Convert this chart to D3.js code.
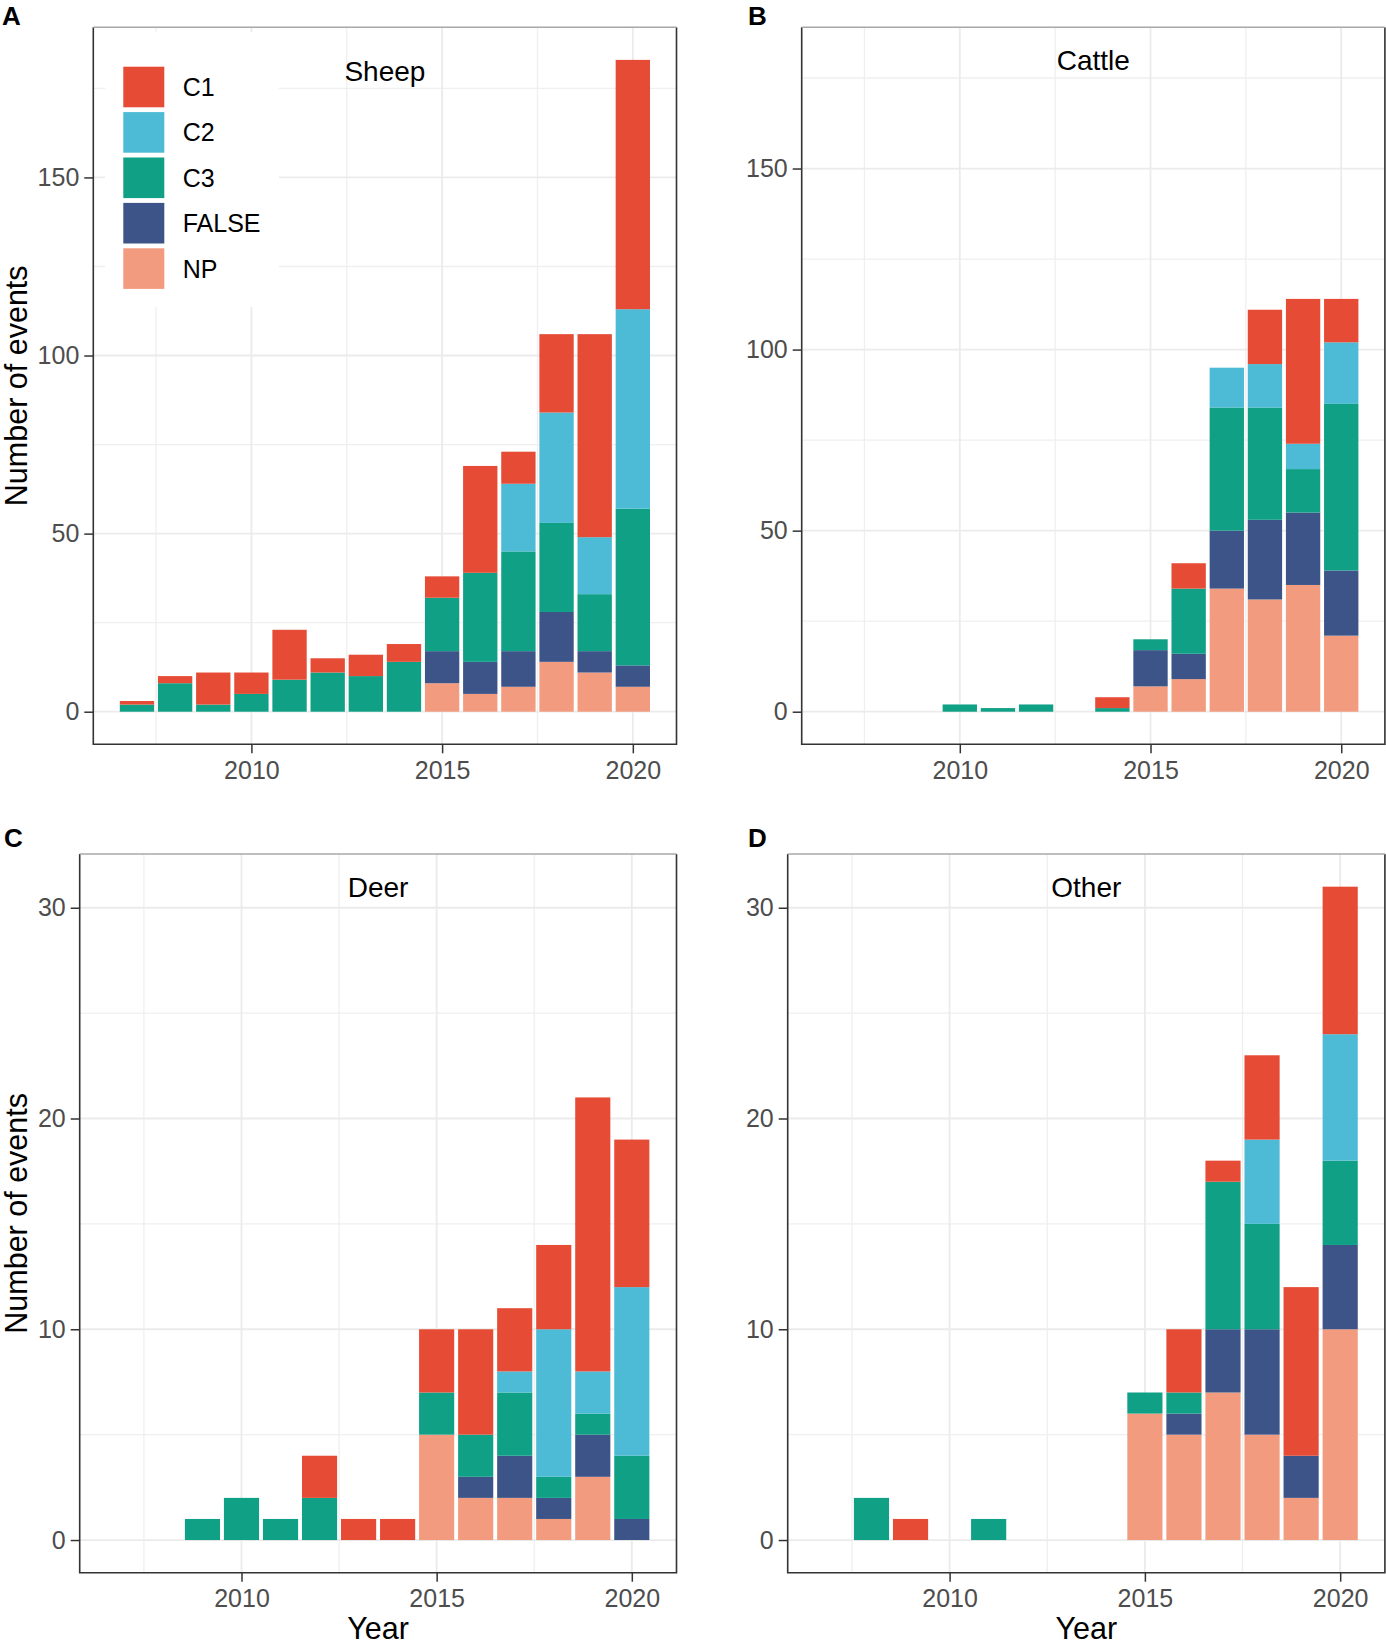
<!DOCTYPE html>
<html>
<head>
<meta charset="utf-8">
<script src="https://cdn.jsdelivr.net/npm/d3@7"></script>
<style>
body { margin: 0; background: #fff; }
text { font-family: "Liberation Sans", Arial, sans-serif; }
</style>
</head>
<body>
<div id="chart"></div>
<script>
const years = [2007, 2008, 2009, 2010, 2011, 2012, 2013, 2014, 2015, 2016, 2017, 2018, 2019, 2020];
const categories = ['C1', 'C2', 'C3', 'FALSE', 'NP'];
const stackOrder = ['NP', 'FALSE', 'C3', 'C2', 'C1'];
const colors = { C1: '#E64B35', C2: '#4DBBD5', C3: '#0FA085', FALSE: '#3C5488', NP: '#F39B7F' };

// Sheep
const sheepC1 = [1, 2, 9, 6, 14, 4, 6, 5, 6, 30, 9, 22, 57, 70];
const sheepC2 = [0, 0, 0, 0, 0, 0, 0, 0, 0, 0, 19, 31, 16, 56];
const sheepC3 = [2, 8, 2, 5, 9, 11, 10, 14, 15, 25, 28, 25, 16, 44];
const sheepFALSE = [0, 0, 0, 0, 0, 0, 0, 0, 9, 9, 10, 14, 6, 6];
const sheepNP = [0, 0, 0, 0, 0, 0, 0, 0, 8, 5, 7, 14, 11, 7];

// Cattle
const cattleC1 = [0, 0, 0, 0, 0, 0, 0, 3, 0, 7, 0, 15, 40, 12];
const cattleC2 = [0, 0, 0, 0, 0, 0, 0, 0, 0, 0, 11, 12, 7, 17];
const cattleC3 = [0, 0, 0, 2, 1, 2, 0, 1, 3, 18, 34, 31, 12, 46];
const cattleFALSE = [0, 0, 0, 0, 0, 0, 0, 0, 10, 7, 16, 22, 20, 18];
const cattleNP = [0, 0, 0, 0, 0, 0, 0, 0, 7, 9, 34, 31, 35, 21];

// Deer
const deerC1 = [0, 0, 0, 0, 0, 2, 1, 1, 3, 5, 3, 4, 13, 7];
const deerC2 = [0, 0, 0, 0, 0, 0, 0, 0, 0, 0, 1, 7, 2, 8];
const deerC3 = [0, 0, 1, 2, 1, 2, 0, 0, 2, 2, 3, 1, 1, 3];
const deerFALSE = [0, 0, 0, 0, 0, 0, 0, 0, 0, 1, 2, 1, 2, 1];
const deerNP = [0, 0, 0, 0, 0, 0, 0, 0, 5, 2, 2, 1, 3, 0];

// Other
const otherC1 = [0, 0, 1, 0, 0, 0, 0, 0, 0, 3, 1, 4, 8, 7];
const otherC2 = [0, 0, 0, 0, 0, 0, 0, 0, 0, 0, 0, 4, 0, 6];
const otherC3 = [0, 2, 0, 0, 1, 0, 0, 0, 1, 1, 7, 5, 0, 4];
const otherFALSE = [0, 0, 0, 0, 0, 0, 0, 0, 0, 1, 3, 5, 2, 4];
const otherNP = [0, 0, 0, 0, 0, 0, 0, 0, 6, 5, 7, 5, 2, 10];

const xTicks = [2010, 2015, 2020];
const bigTicks = [0, 50, 100, 150];
const smallTicks = [0, 10, 20, 30];

const width = 1386;
const height = 1645;

const buildTable = (c1, c2, c3, f, np) => years.map((year, i) => ({
    year: year, C1: c1[i], C2: c2[i], C3: c3[i], FALSE: f[i], NP: np[i]
}));

const panels = [
    { tag: 'A', title: 'Sheep', titleY: 180, yMax: 183, yTicks: bigTicks,
      data: buildTable(sheepC1, sheepC2, sheepC3, sheepFALSE, sheepNP),
      box: { left: 93.3, right: 676.5, top: 27.3, bottom: 744.3 }, tagPos: [2, 25],
      yTitle: true, xTitle: false, legend: true },
    { tag: 'B', title: 'Cattle', titleY: 180, yMax: 180, yTicks: bigTicks,
      data: buildTable(cattleC1, cattleC2, cattleC3, cattleFALSE, cattleNP),
      box: { left: 801.7, right: 1384.9, top: 27.3, bottom: 744.3 }, tagPos: [748, 25],
      yTitle: false, xTitle: false, legend: false },
    { tag: 'C', title: 'Deer', titleY: 31, yMax: 31, yTicks: smallTicks,
      data: buildTable(deerC1, deerC2, deerC3, deerFALSE, deerNP),
      box: { left: 79.7, right: 676.5, top: 854, bottom: 1572.7 }, tagPos: [4, 847],
      yTitle: true, xTitle: true, legend: false },
    { tag: 'D', title: 'Other', titleY: 31, yMax: 31, yTicks: smallTicks,
      data: buildTable(otherC1, otherC2, otherC3, otherFALSE, otherNP),
      box: { left: 787.7, right: 1384.9, top: 854, bottom: 1572.7 }, tagPos: [748, 847],
      yTitle: false, xTitle: true, legend: false }
];

const svg = d3.select('#chart')
    .append('svg')
    .attr('width', width)
    .attr('height', height);

// minor grid positions: halfway between majors, kept inside the domain
const minorOf = (ticks, domain) => {
    const step = ticks[1] - ticks[0];
    const out = [];
    ticks.forEach(t => {
        [t - step / 2, t + step / 2].forEach(m => {
            if (m > domain[0] && m < domain[1] && !out.includes(m)) out.push(m);
        });
    });
    return out;
};

const drawPanel = (p) => {
    const b = p.box;
    const xLo = d3.min(years) - 0.45;
    const xHi = d3.max(years) + 0.45;
    const xPad = (xHi - xLo) * 0.05;
    const x = d3.scaleLinear()
        .domain([xLo - xPad, xHi + xPad])
        .range([b.left, b.right]);
    const y = d3.scaleLinear()
        .domain([-0.05 * p.yMax, 1.05 * p.yMax])
        .range([b.bottom, b.top]);

    const g = svg.append('g');

    // grid
    const xMinor = minorOf(xTicks, x.domain());
    const yMinor = minorOf(p.yTicks, y.domain());
    g.selectAll('.xminor').data(xMinor).enter().append('line')
        .attr('x1', d => x(d)).attr('x2', d => x(d))
        .attr('y1', b.top).attr('y2', b.bottom)
        .attr('stroke', '#EFEFEF').attr('stroke-width', 1.3);
    g.selectAll('.yminor').data(yMinor).enter().append('line')
        .attr('y1', d => y(d)).attr('y2', d => y(d))
        .attr('x1', b.left).attr('x2', b.right)
        .attr('stroke', '#EFEFEF').attr('stroke-width', 1.3);
    g.selectAll('.xmajor').data(xTicks).enter().append('line')
        .attr('x1', d => x(d)).attr('x2', d => x(d))
        .attr('y1', b.top).attr('y2', b.bottom)
        .attr('stroke', '#EBEBEB').attr('stroke-width', 1.8);
    g.selectAll('.ymajor').data(p.yTicks).enter().append('line')
        .attr('y1', d => y(d)).attr('y2', d => y(d))
        .attr('x1', b.left).attr('x2', b.right)
        .attr('stroke', '#EBEBEB').attr('stroke-width', 1.8);

    // stacked bars
    const series = d3.stack().keys(stackOrder)(p.data);
    g.selectAll('.layer')
        .data(series)
        .enter()
        .append('g')
        .attr('fill', s => colors[s.key])
        .selectAll('rect')
        .data(s => s.filter(d => d[1] > d[0]))
        .enter()
        .append('rect')
        .attr('x', d => x(d.data.year - 0.45))
        .attr('width', d => x(d.data.year + 0.45) - x(d.data.year - 0.45))
        .attr('y', d => y(d[1]))
        .attr('height', d => y(d[0]) - y(d[1]));

    // facet label
    g.append('text')
        .attr('x', x(d3.mean(x.domain())))
        .attr('y', y(p.titleY))
        .attr('dy', '0.36em')
        .attr('text-anchor', 'middle')
        .style('font-size', '28px')
        .attr('fill', '#000')
        .text(p.title);

    // legend inside panel A
    if (p.legend) {
        const lg = g.append('g');
        lg.append('rect')
            .attr('x', 105).attr('y', 32)
            .attr('width', 174).attr('height', 275)
            .attr('fill', '#fff');
        const items = lg.selectAll('.item')
            .data(categories)
            .enter()
            .append('g')
            .attr('transform', (d, i) => `translate(123.3, ${66.7 + i * 45.4})`);
        items.append('rect')
            .attr('width', 41).attr('height', 40.6)
            .attr('fill', d => colors[d]);
        items.append('text')
            .attr('x', 59.4).attr('y', 20.3)
            .attr('dy', '0.36em')
            .style('font-size', '25px')
            .attr('fill', '#000')
            .text(d => d);
    }

    // axes
    const gX = g.append('g')
        .attr('transform', `translate(0, ${b.bottom})`)
        .call(d3.axisBottom(x).tickValues(xTicks).tickFormat(d3.format('d')).tickSize(9).tickPadding(7.5));
    const gY = g.append('g')
        .attr('transform', `translate(${b.left}, 0)`)
        .call(d3.axisLeft(y).tickValues(p.yTicks).tickSize(9).tickPadding(5));
    [gX, gY].forEach(ax => {
        ax.select('.domain').remove();
        ax.selectAll('line').attr('stroke', '#333').attr('stroke-width', 1.5);
        ax.selectAll('text')
            .style('font-size', '25px')
            .style('font-family', '"Liberation Sans", Arial, sans-serif')
            .attr('fill', '#4D4D4D');
    });

    // panel border
    g.append('path')
        .attr('d', `M${b.left},${b.top}V${b.bottom}H${b.right}V${b.top}`)
        .attr('fill', 'none').attr('stroke', '#333').attr('stroke-width', 1.6);
    g.append('line')
        .attr('x1', b.left).attr('x2', b.right)
        .attr('y1', b.top).attr('y2', b.top)
        .attr('stroke', '#A8A8A8').attr('stroke-width', 1.6);

    // tag
    svg.append('text')
        .attr('x', p.tagPos[0]).attr('y', p.tagPos[1])
        .style('font-size', '26px')
        .style('font-weight', 'bold')
        .attr('fill', '#000')
        .text(p.tag);

    if (p.yTitle) {
        svg.append('text')
            .attr('transform', `translate(27, ${(b.top + b.bottom) / 2}) rotate(-90)`)
            .attr('text-anchor', 'middle')
            .style('font-size', '30.5px')
            .attr('fill', '#000')
            .text('Number of events');
    }
    if (p.xTitle) {
        svg.append('text')
            .attr('x', (b.left + b.right) / 2)
            .attr('y', 1639)
            .attr('text-anchor', 'middle')
            .style('font-size', '30.5px')
            .attr('fill', '#000')
            .text('Year');
    }
};

panels.forEach(drawPanel);
</script>
</body>
</html>
